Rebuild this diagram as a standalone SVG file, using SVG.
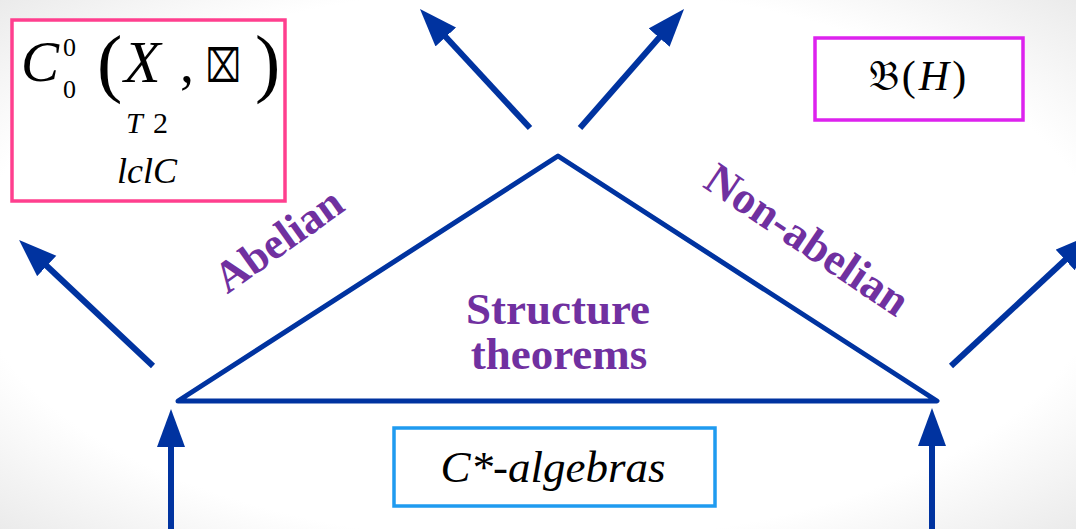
<svg xmlns="http://www.w3.org/2000/svg" width="1076" height="529" viewBox="0 0 1076 529">
  <defs>
    <radialGradient id="bg" cx="50%" cy="50%" r="75%">
      <stop offset="0.7" stop-color="#ffffff"/>
      <stop offset="1" stop-color="#e6e6e6"/>
    </radialGradient>
    <marker id="head" markerUnits="userSpaceOnUse" markerWidth="40" markerHeight="30" refX="1" refY="14" orient="auto">
      <path d="M0,0 L38,14 L0,28 z" fill="#0033a0"/>
    </marker>
    <style>
      .conn { stroke: #0033a0; stroke-width: 6; fill: none; marker-end: url(#head); }
      .tri { stroke: #0033a0; stroke-width: 5; fill: none; stroke-linejoin: round; }
      .box { fill: #ffffff; stroke-width: 3.5; }
      .math { fill: #000000; }
      .it { font-style: italic; }
      .lbl { font-weight: bold; fill: #7030a0; }
    </style>
  </defs>
  <rect width="1076" height="529" fill="url(#bg)"/>

  <g id="connectors">
    <line class="conn" x1="530" y1="128" x2="445.1" y2="36.2"/>
    <line class="conn" x1="580" y1="128" x2="659.7" y2="36.9"/>
    <line class="conn" x1="153" y1="366" x2="46" y2="265.3"/>
    <line class="conn" x1="951" y1="366" x2="1065.9" y2="259.2"/>
    <line class="conn" x1="171" y1="535" x2="171" y2="446"/>
    <line class="conn" x1="932" y1="535" x2="932" y2="445"/>
  </g>

  <g id="triangle">
    <polygon class="tri" points="178,401 558,156 937,401"/>
  </g>

  <g font-family="Liberation Serif, DejaVu Serif, serif">
  <g id="label-structure">
    <text class="lbl" x="558" y="324" text-anchor="middle" font-size="45">Structure</text>
    <text class="lbl" x="559" y="369" text-anchor="middle" font-size="45">theorems</text>
  </g>

  <g id="label-abelian">
    <text class="lbl" x="0" y="0" font-size="44" text-anchor="middle" transform="translate(287,252) rotate(-35.5)">Abelian</text>
  </g>

  <g id="label-nonabelian">
    <text class="lbl" x="0" y="0" font-size="45" text-anchor="middle" transform="translate(799,252) rotate(34)">Non-abelian</text>
  </g>

  <g id="box-c0">
    <rect class="box" x="12" y="20" width="273" height="181" stroke="#ff3f8e"/>
    <text class="math it" x="21" y="81" font-size="57">C</text>
    <text class="math" x="63" y="56" font-size="26">0</text>
    <text class="math" x="63" y="98" font-size="26">0</text>
    <text class="math" x="97" y="88" font-size="76">(</text>
    <text class="math it" x="124" y="82" font-size="60">X</text>
    <text class="math" x="180" y="82" font-size="56">,</text>
    <text class="math" x="0" y="0" font-size="40" transform="translate(206,82) scale(0.75,1.15)" font-family="DejaVu Sans, sans-serif">⌧</text>
    <text class="math" x="255" y="88" font-size="76">)</text>
    <text class="math it" x="126" y="133" font-size="30">T</text>
    <text class="math" x="153" y="133" font-size="30">2</text>
    <text class="math it" x="117" y="183" font-size="36">lclC</text>
  </g>

  <g id="box-bh">
    <rect class="box" x="815" y="38" width="208" height="82" stroke="#dd22ee"/>
    <text class="math" x="919" y="90" font-size="42" letter-spacing="3" text-anchor="middle"><tspan>𝔅(</tspan><tspan class="it">H</tspan><tspan>)</tspan></text>
  </g>

  <g id="box-cstar">
    <rect class="box" x="394" y="428" width="321" height="78" stroke="#1f9bf0"/>
    <text class="math it" x="553" y="482" font-size="45" text-anchor="middle">C*-algebras</text>
  </g>
  </g>
</svg>
